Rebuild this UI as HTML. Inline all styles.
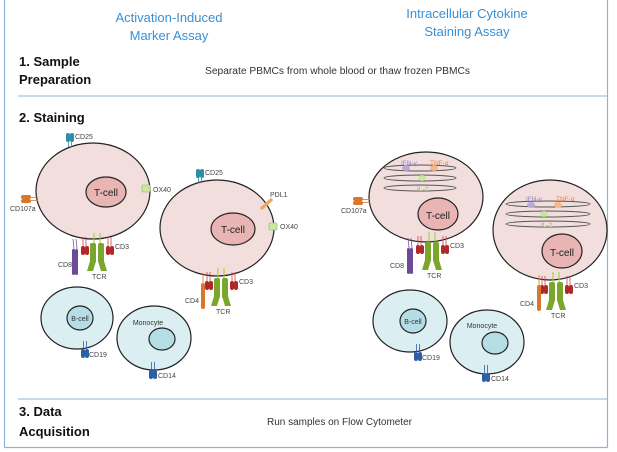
<!DOCTYPE html>
<html><head><meta charset="utf-8"><style>
html,body{margin:0;padding:0;background:#fff;}
svg{display:block;font-family:"Liberation Sans",Arial,sans-serif;}
.h{font-weight:bold;font-size:13px;fill:#111;}
.b{fill:#3a8fd4;font-size:13px;}
.s{font-size:7px;fill:#444;}
</style></head><body>
<svg width="617" height="452" viewBox="0 0 617 452" xmlns="http://www.w3.org/2000/svg">
<defs>
<g id="tcr">
 <line x1="-3" y1="-8" x2="-3" y2="4" stroke="#9c3" stroke-width="1"/>
 <line x1="3" y1="-8" x2="3" y2="4" stroke="#9c3" stroke-width="1"/>
 <rect x="-7" y="2" width="6" height="20" rx="2" fill="#7aa62c"/>
 <rect x="1" y="2" width="6" height="20" rx="2" fill="#7aa62c"/>
 <polygon points="-7,20 -1,20 -4,30 -10,30" fill="#7aa62c"/>
 <polygon points="1,20 7,20 10,30 4,30" fill="#7aa62c"/>
 <line x1="-14" y1="-4" x2="-14" y2="6" stroke="#c44" stroke-width="0.8"/>
 <line x1="-11" y1="-4" x2="-11" y2="6" stroke="#c44" stroke-width="0.8"/>
 <line x1="11" y1="-4" x2="11" y2="6" stroke="#c44" stroke-width="0.8"/>
 <line x1="14" y1="-4" x2="14" y2="6" stroke="#c44" stroke-width="0.8"/>
 <rect x="-16" y="5" width="4" height="9" rx="2" fill="#b02828"/>
 <rect x="-12" y="5" width="4" height="9" rx="2" fill="#b02828"/>
 <rect x="9" y="5" width="4" height="9" rx="2" fill="#b02828"/>
 <rect x="13" y="5" width="4" height="9" rx="2" fill="#b02828"/>
 <text x="18" y="8" class="s">CD3</text>
 <text x="-5" y="38" class="s">TCR</text>
</g>
<g id="cd25">
 <rect x="-4" y="-8" width="4" height="9" rx="2" fill="#2a8fa8"/>
 <rect x="0" y="-8" width="4" height="9" rx="2" fill="#2a8fa8"/>
 <line x1="-1.5" y1="0" x2="-1.5" y2="6" stroke="#2a8fa8" stroke-width="0.8"/>
 <line x1="1.5" y1="0" x2="1.5" y2="6" stroke="#2a8fa8" stroke-width="0.8"/>
</g>
<g id="cdb">
 <line x1="-1.5" y1="-8" x2="-1.5" y2="0" stroke="#2d5fa8" stroke-width="0.8"/>
 <line x1="1.5" y1="-8" x2="1.5" y2="0" stroke="#2d5fa8" stroke-width="0.8"/>
 <rect x="-4" y="0" width="4" height="9" rx="2" fill="#2d5fa8"/>
 <rect x="0" y="0" width="4" height="9" rx="2" fill="#2d5fa8"/>
</g>
<g id="cd107">
 <rect x="-10" y="-4" width="10" height="4" rx="2" fill="#d9782d"/>
 <rect x="-10" y="0" width="10" height="4" rx="2" fill="#d9782d"/>
 <line x1="0" y1="-1.5" x2="7" y2="-1.5" stroke="#d9782d" stroke-width="0.8"/>
 <line x1="0" y1="1.5" x2="7" y2="1.5" stroke="#d9782d" stroke-width="0.8"/>
</g>
<g id="cd8">
 <line x1="-2" y1="-8" x2="-1" y2="2" stroke="#7b55a8" stroke-width="0.8"/>
 <line x1="1" y1="-8" x2="2" y2="2" stroke="#7b55a8" stroke-width="0.8"/>
 <rect x="-3" y="2" width="3" height="26" rx="1.5" fill="#6b4a9c"/>
 <rect x="0" y="2" width="3" height="26" rx="1.5" fill="#6b4a9c"/>
</g>
<g id="cd4">
 <line x1="0" y1="-8" x2="0" y2="2" stroke="#d9782d" stroke-width="0.8"/>
 <rect x="-2" y="2" width="4" height="26" rx="2" fill="#d9782d"/>
</g>
</defs>

<line x1="4.5" y1="0" x2="4.5" y2="447.5" stroke="#8ab4e0" stroke-width="1.2"/>
<line x1="607.5" y1="0" x2="607.5" y2="447.5" stroke="#8ab4e0" stroke-width="1.2"/>
<line x1="4.5" y1="447.5" x2="607.5" y2="447.5" stroke="#8ab4e0" stroke-width="1.2"/>
<line x1="18" y1="96" x2="607" y2="96" stroke="#8ab4e0" stroke-width="1"/>
<line x1="18" y1="399" x2="607" y2="399" stroke="#8ab4e0" stroke-width="1"/>

<text x="169" y="22" class="b" text-anchor="middle">Activation-Induced</text>
<text x="169" y="40" class="b" text-anchor="middle">Marker Assay</text>
<text x="467" y="18" class="b" text-anchor="middle">Intracellular Cytokine</text>
<text x="467" y="36" class="b" text-anchor="middle">Staining Assay</text>

<text x="19" y="66" class="h">1. Sample</text>
<text x="19" y="84" class="h">Preparation</text>
<text x="205" y="74" font-size="10" fill="#333" textLength="265" lengthAdjust="spacingAndGlyphs">Separate PBMCs from whole blood or thaw frozen PBMCs</text>
<text x="19" y="122" class="h">2. Staining</text>
<text x="19" y="416" class="h">3. Data</text>
<text x="19" y="436" class="h">Acquisition</text>
<text x="267" y="425" font-size="10" fill="#333" textLength="145" lengthAdjust="spacingAndGlyphs">Run samples on Flow Cytometer</text>

<g stroke="#222" stroke-width="1.2">
<ellipse cx="93" cy="191" rx="57" ry="48" fill="#f3dede"/>
<ellipse cx="106" cy="192" rx="20" ry="15" fill="#e8b4b4"/>
<ellipse cx="217" cy="228" rx="57" ry="48" fill="#f3dede"/>
<ellipse cx="233" cy="229" rx="22" ry="16" fill="#e8b4b4"/>
<ellipse cx="77" cy="318" rx="36" ry="31" fill="#dbeff3"/>
<ellipse cx="80" cy="318" rx="13" ry="12" fill="#b4dde6"/>
<ellipse cx="154" cy="338" rx="37" ry="32" fill="#dbeff3"/>
<ellipse cx="162" cy="339" rx="13" ry="11" fill="#b4dde6"/>
</g>
<text x="106" y="196" font-size="10" text-anchor="middle" fill="#222">T-cell</text>
<text x="233" y="233" font-size="10" text-anchor="middle" fill="#222">T-cell</text>
<text x="80" y="321" font-size="7" text-anchor="middle" fill="#333">B-cell</text>
<text x="148" y="325" font-size="7" text-anchor="middle" fill="#333">Monocyte</text>

<use href="#cd25" x="70" y="141"/><text x="75" y="139" class="s">CD25</text>
<use href="#cd25" x="200" y="177"/><text x="205" y="175" class="s">CD25</text>
<use href="#cd107" x="31" y="199"/><text x="10" y="211" class="s">CD107a</text>
<rect x="142" y="185" width="8" height="7" rx="1" fill="#cce8a0" stroke="#8b5" stroke-width="0.6"/><text x="153" y="192" class="s">OX40</text>
<rect x="269" y="223" width="8" height="7" rx="1" fill="#cce8a0" stroke="#8b5" stroke-width="0.6"/><text x="280" y="229" class="s">OX40</text>
<line x1="262" y1="208" x2="271" y2="200" stroke="#f0a865" stroke-width="3.5" stroke-linecap="round"/><text x="270" y="197" class="s">PDL1</text>
<use href="#tcr" x="97" y="241"/>
<use href="#cd8" x="75" y="247"/><text x="58" y="267" class="s">CD8</text>
<use href="#tcr" x="221" y="276"/>
<use href="#cd4" x="203" y="281"/><text x="185" y="303" class="s">CD4</text>
<use href="#cdb" x="85" y="349"/><text x="89" y="357" class="s">CD19</text>
<use href="#cdb" x="153" y="370"/><text x="158" y="378" class="s">CD14</text>

<g stroke="#222" stroke-width="1.2">
<ellipse cx="426" cy="197" rx="57" ry="45" fill="#f3dede"/>
<ellipse cx="438" cy="214" rx="20" ry="16" fill="#e8b4b4"/>
<ellipse cx="550" cy="230" rx="57" ry="50" fill="#f3dede"/>
<ellipse cx="562" cy="251" rx="20" ry="17" fill="#e8b4b4"/>
<ellipse cx="410" cy="321" rx="37" ry="31" fill="#dbeff3"/>
<ellipse cx="413" cy="321" rx="13" ry="12" fill="#b4dde6"/>
<ellipse cx="487" cy="342" rx="37" ry="32" fill="#dbeff3"/>
<ellipse cx="495" cy="343" rx="13" ry="11" fill="#b4dde6"/>
</g>
<g fill="none" stroke="#555" stroke-width="0.9">
<ellipse cx="420" cy="168" rx="36" ry="3"/><ellipse cx="420" cy="178" rx="36" ry="3"/><ellipse cx="420" cy="188" rx="36" ry="3"/>
<ellipse cx="548" cy="204" rx="42" ry="3"/><ellipse cx="548" cy="214" rx="42" ry="3"/><ellipse cx="548" cy="224" rx="42" ry="3"/>
</g>
<ellipse cx="406" cy="168" rx="4" ry="3" fill="#b9a8dc"/><ellipse cx="434" cy="168" rx="4" ry="3" fill="#f6b888"/><ellipse cx="422" cy="178" rx="4" ry="3" fill="#c6e89a"/>
<text x="401" y="165" font-size="6.5" fill="#9080c8">IFN-γ</text><text x="430" y="165" font-size="6.5" fill="#e8843c">TNF-α</text><text x="417" y="191" font-size="6.5" fill="#8bbf5a">IL-2</text>
<ellipse cx="531" cy="205" rx="4" ry="3" fill="#b9a8dc"/><ellipse cx="558" cy="205" rx="4" ry="3" fill="#f6b888"/><ellipse cx="544" cy="214" rx="4" ry="3" fill="#c6e89a"/>
<text x="526" y="201" font-size="6.5" fill="#9080c8">IFN-γ</text><text x="556" y="201" font-size="6.5" fill="#e8843c">TNF-α</text><text x="541" y="227" font-size="6.5" fill="#8bbf5a">IL-2</text>
<text x="438" y="219" font-size="10" text-anchor="middle" fill="#222">T-cell</text>
<text x="562" y="256" font-size="10" text-anchor="middle" fill="#222">T-cell</text>
<text x="413" y="324" font-size="7" text-anchor="middle" fill="#333">B-cell</text>
<text x="482" y="328" font-size="7" text-anchor="middle" fill="#333">Monocyte</text>

<use href="#cd107" x="363" y="201"/><text x="341" y="213" class="s">CD107a</text>
<use href="#tcr" x="432" y="240"/>
<use href="#cd8" x="410" y="246"/><text x="390" y="268" class="s">CD8</text>
<use href="#tcr" x="556" y="280"/>
<use href="#cd4" x="539" y="283"/><text x="520" y="306" class="s">CD4</text>
<use href="#cdb" x="418" y="352"/><text x="422" y="360" class="s">CD19</text>
<use href="#cdb" x="486" y="373"/><text x="491" y="381" class="s">CD14</text>
</svg>
</body></html>
